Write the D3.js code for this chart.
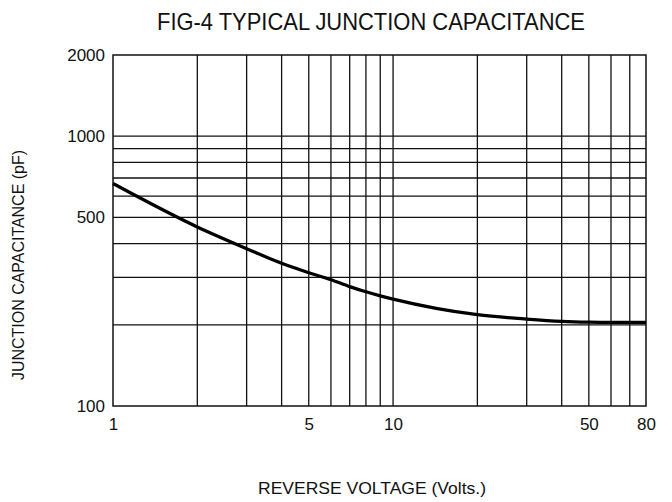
<html>
<head>
  <script type="text/javascript" src="https://d3js.org/d3.v7.min.js"></script>
  <style>
    body { margin: 0; background: #fff; }
    text { font-family: "Liberation Sans", Arial, sans-serif; fill: #111; }
  </style>
</head>
<body>
<div id="chart"></div>
<script>
    // reverse voltage (V) and junction capacitance (pF)
    let voltage = [1, 2, 3, 4, 5, 6, 7, 8, 9, 10, 20, 30, 40, 50, 60, 70, 80];
    let capacitance = [668, 461, 383, 338, 312, 294, 277, 265, 256, 249, 218, 210, 206, 204.5, 204, 204, 204];

    let xGrid = [2, 3, 4, 5, 6, 7, 8, 9, 10, 20, 30, 40, 50, 60, 70];
    let yGrid = [200, 300, 400, 500, 600, 700, 800, 900, 1000];
    let xTicks = [1, 5, 10, 50, 80];
    let yTicks = [100, 500, 1000, 2000];

    let width = 672;
    let height = 502;
    let margin = {top: 55, right: 26, bottom: 96, left: 113};
    let CHART_WIDTH = width - margin.left - margin.right;
    let CHART_HEIGHT = height - margin.top - margin.bottom;

    const svg = d3.select('#chart')
        .append('svg')
        .attr('width', width)
        .attr('height', height);

    const xScale = d3.scaleLog()
        .domain([1, 80])
        .range([0, CHART_WIDTH]);

    const yScale = d3.scaleLog()
        .domain([100, 2000])
        .range([CHART_HEIGHT, 0]);

    const g = svg.append('g')
        .attr('transform', `translate(${margin.left}, ${margin.top})`);

    // grid
    g.selectAll(".vgrid")
        .data(xGrid)
        .enter()
        .append("line")
        .attr("class", "vgrid")
        .attr("x1", d => xScale(d)).attr("x2", d => xScale(d))
        .attr("y1", 0).attr("y2", CHART_HEIGHT)
        .attr("stroke", "#111").attr("stroke-width", 1.3);

    g.selectAll(".hgrid")
        .data(yGrid)
        .enter()
        .append("line")
        .attr("class", "hgrid")
        .attr("x1", 0).attr("x2", CHART_WIDTH)
        .attr("y1", d => yScale(d)).attr("y2", d => yScale(d))
        .attr("stroke", "#111").attr("stroke-width", 1.3);

    g.append("rect")
        .attr("width", CHART_WIDTH)
        .attr("height", CHART_HEIGHT)
        .attr("fill", "none")
        .attr("stroke", "#111")
        .attr("stroke-width", 1.5);

    // curve
    const line = d3.line()
        .x((d, i) => xScale(voltage[i]))
        .y(d => yScale(d))
        .curve(d3.curveMonotoneX);

    g.append("path")
        .datum(capacitance)
        .attr("d", line)
        .attr("fill", "none")
        .attr("stroke", "#000")
        .attr("stroke-width", 3.2);

    // axes, labels only
    const xAxis = d3.axisBottom(xScale)
        .tickValues(xTicks)
        .tickFormat(d3.format("d"))
        .tickSize(0)
        .tickPadding(12);
    const gx = g.append("g")
        .attr("transform", `translate(0, ${CHART_HEIGHT})`)
        .call(xAxis);
    gx.select(".domain").remove();
    gx.selectAll("text").style("font-size", "17px").style("font-family", null);

    const yAxis = d3.axisLeft(yScale)
        .tickValues(yTicks)
        .tickFormat(d3.format("d"))
        .tickSize(0)
        .tickPadding(8);
    const gy = g.append("g").call(yAxis);
    gy.select(".domain").remove();
    gy.selectAll("text").style("font-size", "17px").style("font-family", null);

    // titles (condensed like the original lettering)
    svg.append("text")
        .attr("x", 371)
        .attr("y", 30)
        .attr("text-anchor", "middle")
        .attr("textLength", 428)
        .attr("lengthAdjust", "spacingAndGlyphs")
        .style("font-size", "24px")
        .text("FIG-4 TYPICAL JUNCTION CAPACITANCE");

    svg.append("text")
        .attr("x", 372)
        .attr("y", 494)
        .attr("text-anchor", "middle")
        .attr("textLength", 228)
        .attr("lengthAdjust", "spacingAndGlyphs")
        .style("font-size", "17px")
        .text("REVERSE VOLTAGE (Volts.)");

    svg.append("text")
        .attr("transform", "translate(24, 265) rotate(-90)")
        .attr("text-anchor", "middle")
        .attr("textLength", 230)
        .attr("lengthAdjust", "spacingAndGlyphs")
        .style("font-size", "16px")
        .text("JUNCTION CAPACITANCE (pF)");
</script>
</body>
</html>
